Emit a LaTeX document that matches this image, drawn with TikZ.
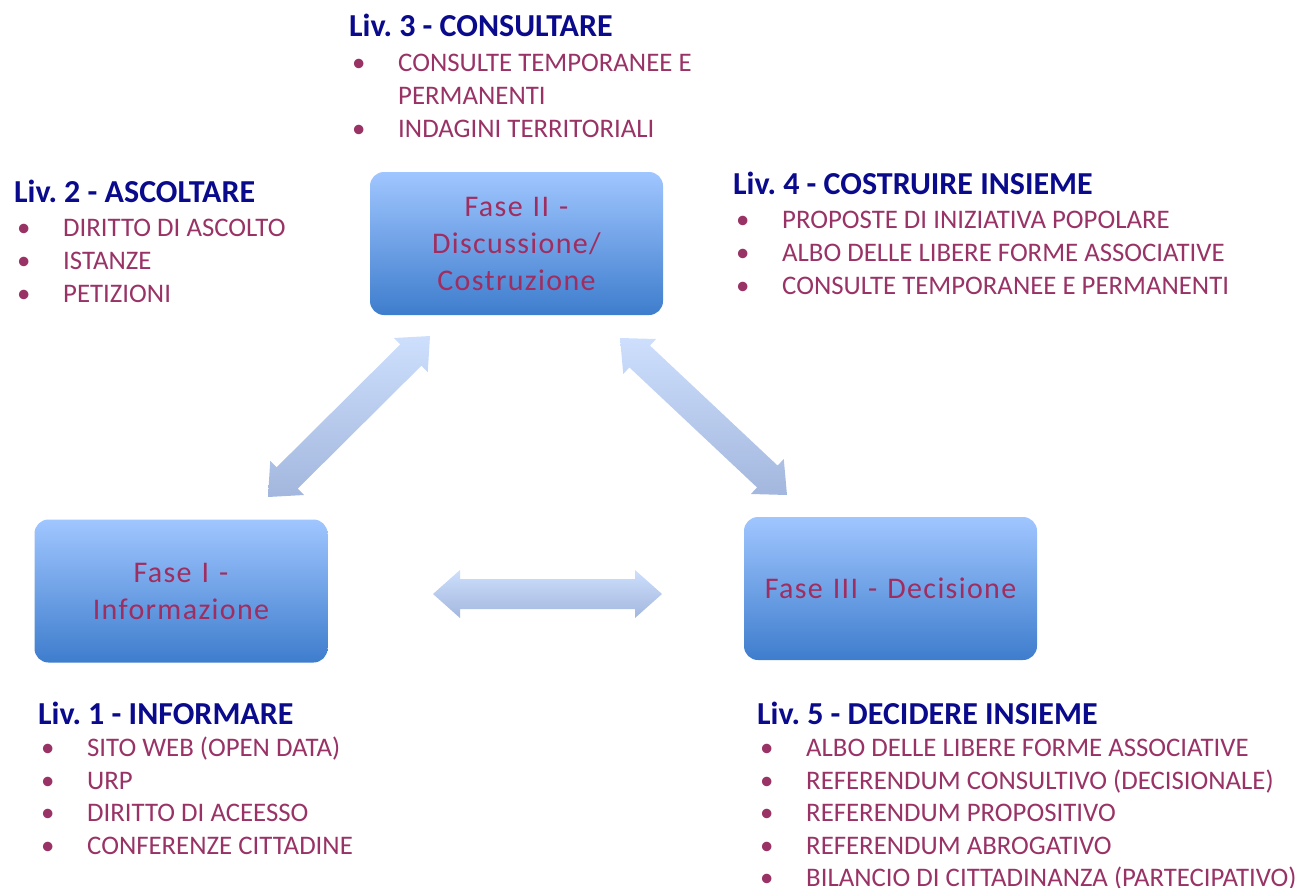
\documentclass[tikz,border=0pt]{standalone}
\usepackage{fontspec}
\setmainfont{Carlito}
\newfontfamily\fasefont[LetterSpace=4.5]{Carlito}
\usepackage{tikz}
\usetikzlibrary{calc}
\frenchspacing
\definecolor{livblue}{RGB}{10,10,140}
\definecolor{itemred}{RGB}{153,51,102}
\definecolor{fasetxt}{RGB}{160,45,95}
\definecolor{fasetop}{RGB}{160,198,255}
\definecolor{fasebot}{RGB}{62,125,205}
\definecolor{arrtop}{RGB}{205,223,252}
\definecolor{arrbot}{RGB}{163,183,222}
\tikzstyle{fase} = [rectangle, rounded corners=14, top color=fasetop, bottom color=fasebot, minimum width=293, minimum height=143, text width=280, align=center, text=fasetxt, font=\fasefont\fontsize{30}{37}\selectfont]
\tikzstyle{liv} = [inner sep=0, anchor=base west, text=livblue, font=\fontsize{32}{37}\selectfont\bfseries]
\tikzstyle{voce} = [inner sep=0, anchor=base west, text=itemred, font=\fontsize{26.8}{33}\selectfont]
\tikzstyle{freccia} = [top color=arrtop, bottom color=arrbot]
\newcommand{\blt}{\makebox[49pt][l]{\hspace{3pt}\textbullet}}
\newcommand{\frecciadoppia}[2]{%
  \shade[freccia] (#1)
    -- ($(#1)!27pt!(#2)!24pt!90:(#2)$)
    -- ($(#1)!27pt!(#2)!15pt!90:(#2)$)
    -- ($(#2)!27pt!(#1)!15pt!-90:(#1)$)
    -- ($(#2)!27pt!(#1)!24pt!-90:(#1)$)
    -- (#2)
    -- ($(#2)!27pt!(#1)!24pt!90:(#1)$)
    -- ($(#2)!27pt!(#1)!15pt!90:(#1)$)
    -- ($(#1)!27pt!(#2)!15pt!-90:(#2)$)
    -- ($(#1)!27pt!(#2)!24pt!-90:(#2)$)
    -- cycle;}

\begin{document}
\begin{tikzpicture}[x=1pt, y=-1pt]
\useasboundingbox (0,0) rectangle (1303,888);

\node (F1)[fase] at (181,591) {Fase I -\\Informazione};
\node (F2)[fase] at (516.5,243.5) {Fase II -\\Discussione/\\Costruzione};
\node (F3)[fase] at (890.5,588.5) {Fase III - Decisione};

\coordinate (A1) at (268,497);
\coordinate (A2) at (430,336);
\coordinate (B1) at (620,338);
\coordinate (B2) at (787,495);
\coordinate (C1) at (433,594);
\coordinate (C2) at (662,594);
\frecciadoppia{A1}{A2}
\frecciadoppia{B1}{B2}
\frecciadoppia{C1}{C2}

\node (L3)[liv] at (349,37) {Liv. 3 - CONSULTARE};
\node (L3-1)[voce] at (349,72) {\blt CONSULTE TEMPORANEE E};
\node (L3-1b)[voce] at (398,105) {PERMANENTI};
\node (L3-2)[voce] at (349,137) {\blt INDAGINI TERRITORIALI};

\node (L2)[liv] at (14,202) {Liv. 2 - ASCOLTARE};
\foreach \v [count=\i] in {DIRITTO DI ASCOLTO, ISTANZE, PETIZIONI}
    \node (L2-\i)[voce] at (14,203+33*\i) {\blt\v};

\node (L4)[liv] at (733,194) {Liv. 4 - COSTRUIRE INSIEME};
\foreach \v [count=\i] in {PROPOSTE DI INIZIATIVA POPOLARE, ALBO DELLE LIBERE FORME ASSOCIATIVE, CONSULTE TEMPORANEE E PERMANENTI}
    \node (L4-\i)[voce] at (733,195+33*\i) {\blt\v};

\node (L1)[liv] at (38,724) {Liv. 1 - INFORMARE};
\foreach \v [count=\i] in {SITO WEB (OPEN DATA), URP, DIRITTO DI ACEESSO, CONFERENZE CITTADINE}
    \node (L1-\i)[voce] at (38,724.5+32.4*\i) {\blt\v};

\node (L5)[liv] at (757,724) {Liv. 5 - DECIDERE INSIEME};
\foreach \v [count=\i] in {ALBO DELLE LIBERE FORME ASSOCIATIVE, REFERENDUM CONSULTIVO (DECISIONALE), REFERENDUM PROPOSITIVO, REFERENDUM ABROGATIVO, BILANCIO DI CITTADINANZA (PARTECIPATIVO)}
    \node (L5-\i)[voce] at (757,724.5+32.4*\i) {\blt\v};
\end{tikzpicture}
\end{document}
